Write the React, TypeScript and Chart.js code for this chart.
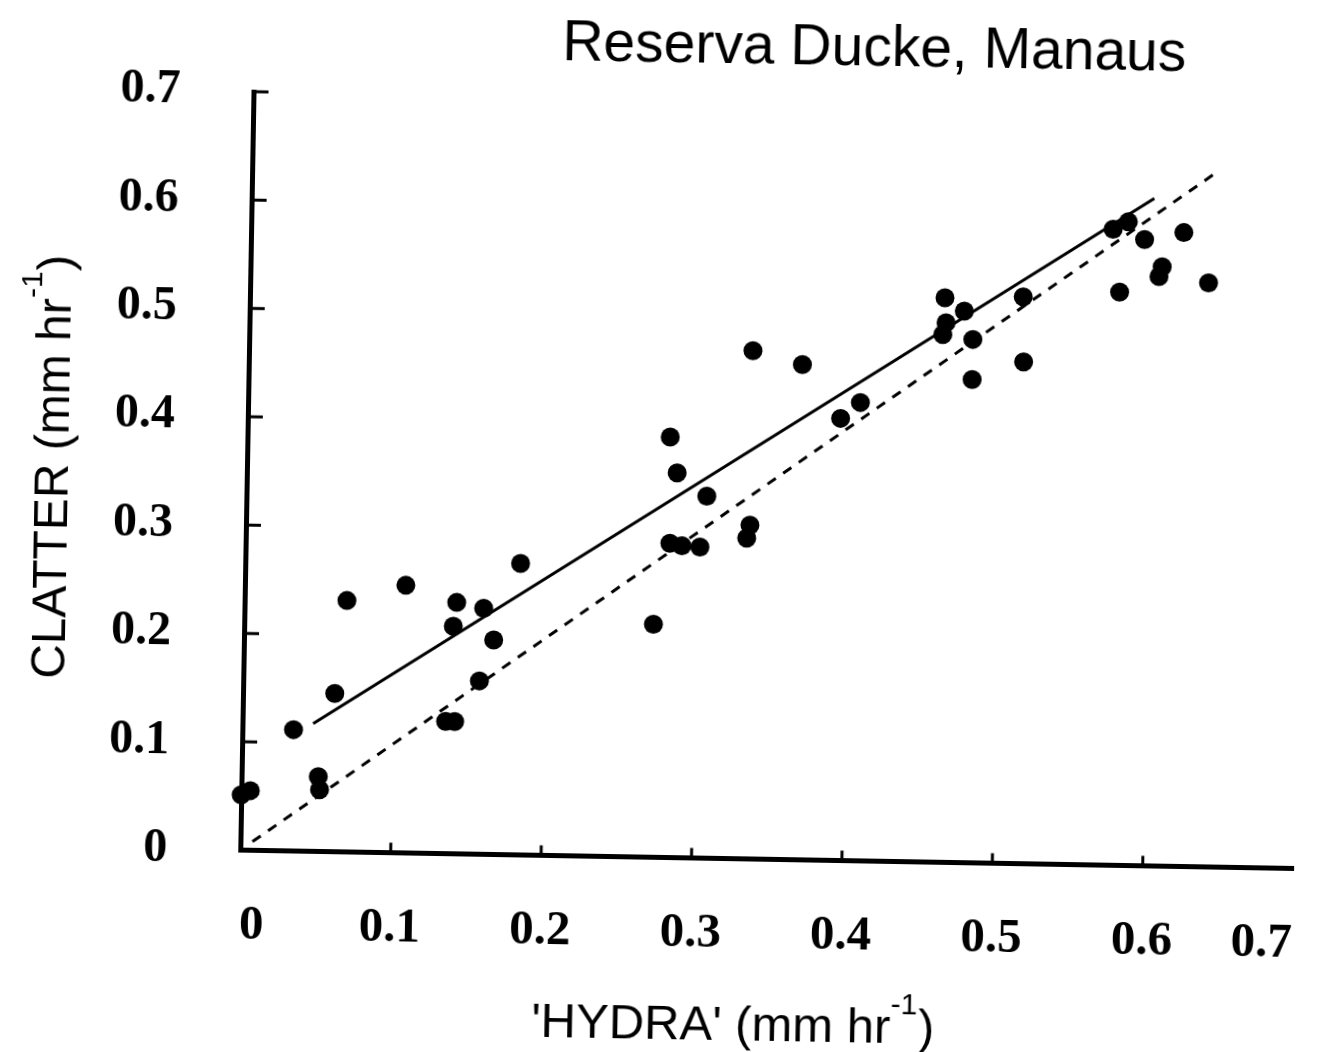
import React, { useEffect, useRef } from "react";
import { Chart, registerables } from "chart.js";

Chart.register(...registerables);

// ---- Data (HYDRA vs CLATTER rainfall rate, mm/hr) ----
const hydra = [
  0.0, 0.006, 0.034, 0.061, 0.068, 0.051, 0.052, 0.107, 0.135, 0.141,
  0.139, 0.141, 0.159, 0.166, 0.157, 0.183, 0.272, 0.281, 0.286, 0.282,
  0.29, 0.306, 0.302, 0.335, 0.333, 0.335, 0.368, 0.394, 0.407, 0.462,
  0.463, 0.461, 0.475, 0.481, 0.481, 0.514, 0.515, 0.573, 0.583, 0.594,
  0.606, 0.604, 0.578, 0.62, 0.637,
];
const clatter = [
  0.051, 0.055, 0.112, 0.146, 0.232, 0.069, 0.057, 0.247, 0.122, 0.122,
  0.21, 0.232, 0.227, 0.198, 0.16, 0.269, 0.215, 0.388, 0.355, 0.29,
  0.288, 0.334, 0.287, 0.308, 0.296, 0.469, 0.457, 0.408, 0.423, 0.521,
  0.498, 0.487, 0.509, 0.483, 0.446, 0.523, 0.463, 0.587, 0.594, 0.578,
  0.553, 0.544, 0.529, 0.585, 0.539,
];
// regression line (solid) end points
const fitX = [0.047, 0.6];
const fitY = [0.118, 0.616];
// 1:1 line (dashed) end points
const identityX = [0.008, 0.643];
const identityY = [0.008, 0.643];
// axis ticks
const tickValues = [0, 0.1, 0.2, 0.3, 0.4, 0.5, 0.6, 0.7];
const tickLabels = ["0", "0.1", "0.2", "0.3", "0.4", "0.5", "0.6", "0.7"];

const chartTitle = "Reserva Ducke, Manaus";
const xTitleParts = ["'HYDRA' (mm hr", "-1", ")"];
const yTitleParts = ["CLATTER (mm hr", "-1", ")"];

const W = 1337;
const H = 1052;
const SANS = '"Liberation Sans", Arial, Helvetica, sans-serif';
const SERIF = '"Liberation Serif", "Times New Roman", Times, serif';

function drawSupLabel(
  ctx: CanvasRenderingContext2D,
  parts: string[],
  cx: number,
  baseline: number,
  size: number
) {
  const mainFont = `${size}px ${SANS}`;
  const supSize = Math.round(size * 0.62);
  const supFont = `${supSize}px ${SANS}`;
  ctx.font = mainFont;
  const w1 = ctx.measureText(parts[0]).width;
  const w3 = ctx.measureText(parts[2]).width;
  ctx.font = supFont;
  const w2 = ctx.measureText(parts[1]).width;
  let x = cx - (w1 + w2 + w3) / 2;
  ctx.textAlign = "left";
  ctx.textBaseline = "alphabetic";
  ctx.font = mainFont;
  ctx.fillText(parts[0], x, baseline);
  x += w1;
  ctx.font = supFont;
  ctx.fillText(parts[1], x, baseline - size * 0.6);
  x += w2 + 1;
  ctx.font = mainFont;
  ctx.fillText(parts[2], x, baseline);
}

const extrasPlugin = {
  id: "extras",
  afterDraw(chart: any) {
    const { ctx, chartArea, scales } = chart;
    const xs = scales.x;
    const ys = scales.y;
    ctx.save();
    ctx.strokeStyle = "#000";
    ctx.fillStyle = "#000";
    ctx.lineWidth = 3;
    // inward tick marks
    for (const v of tickValues) {
      if (v === 0) continue;
      const py = ys.getPixelForValue(v);
      ctx.beginPath();
      ctx.moveTo(chartArea.left, py);
      ctx.lineTo(chartArea.left + 15, py);
      ctx.stroke();
    }
    for (const v of tickValues) {
      if (v === 0 || v === 0.7) continue;
      const px = xs.getPixelForValue(v);
      ctx.beginPath();
      ctx.moveTo(px, chartArea.bottom);
      ctx.lineTo(px, chartArea.bottom - 10);
      ctx.stroke();
    }
    // chart title
    ctx.font = `57px ${SANS}`;
    ctx.textAlign = "center";
    ctx.textBaseline = "alphabetic";
    ctx.fillText(chartTitle, 866, 62);
    // x axis title
    drawSupLabel(ctx, xTitleParts, 741, 1039, 49);
    // y axis title
    ctx.save();
    ctx.translate(67, 478);
    ctx.rotate(-Math.PI / 2);
    drawSupLabel(ctx, yTitleParts, 0, 0, 48);
    ctx.restore();
    ctx.restore();
  },
};

export default function App() {
  const canvasRef = useRef<HTMLCanvasElement | null>(null);

  useEffect(() => {
    if (!canvasRef.current) return;
    const points = hydra.map((x, i) => ({ x, y: clatter[i] }));
    const fitLine = fitX.map((x, i) => ({ x, y: fitY[i] }));
    const identityLine = identityX.map((x, i) => ({ x, y: identityY[i] }));

    const chart = new Chart(canvasRef.current, {
      type: "scatter",
      data: {
        datasets: [
          {
            label: "1:1",
            data: identityLine,
            showLine: true,
            borderColor: "#000",
            borderWidth: 3,
            borderDash: [10, 9],
            pointRadius: 0,
            clip: false,
          } as any,
          {
            label: "fit",
            data: fitLine,
            showLine: true,
            borderColor: "#000",
            borderWidth: 3,
            pointRadius: 0,
            clip: false,
          } as any,
          {
            label: "data",
            data: points,
            backgroundColor: "#000",
            borderColor: "#000",
            borderWidth: 0,
            pointRadius: 9.5,
            pointHoverRadius: 9.5,
            clip: false,
          } as any,
        ],
      },
      options: {
        animation: false,
        responsive: false,
        maintainAspectRatio: false,
        layout: { padding: { left: 0, right: 34, top: 99, bottom: 94.5 } },
        plugins: {
          legend: { display: false },
          tooltip: { enabled: false },
          title: { display: false },
        },
        scales: {
          x: {
            type: "linear",
            min: 0,
            max: 0.7,
            afterBuildTicks: (scale: any) => {
              scale.ticks = tickValues.map((v) => ({ value: v }));
            },
            afterFit: (scale: any) => {
              scale.height = 100;
            },
            grid: { display: false },
            border: { display: true, color: "#000", width: 5 },
            ticks: {
              align: "inner",
              padding: 38,
              color: "#000",
              font: { family: SERIF, size: 49, weight: "bold" },
              callback: (v: any) => tickLabels[tickValues.indexOf(Math.round(Number(v) * 10) / 10)] ?? "",
            },
          },
          y: {
            type: "linear",
            min: 0,
            max: 0.7,
            afterBuildTicks: (scale: any) => {
              scale.ticks = tickValues.map((v) => ({ value: v }));
            },
            afterFit: (scale: any) => {
              scale.width = 246;
            },
            grid: { display: false },
            border: { display: true, color: "#000", width: 5 },
            ticks: {
              padding: 65,
              color: "#000",
              font: { family: SERIF, size: 48, weight: "bold" },
              callback: (v: any) => tickLabels[tickValues.indexOf(Math.round(Number(v) * 10) / 10)] ?? "",
            },
          },
        },
      } as any,
      plugins: [extrasPlugin],
    });
    return () => chart.destroy();
  }, []);

  return (
    <div
      style={{
        position: "fixed",
        left: 0,
        top: 0,
        width: W,
        height: H,
        background: "#fff",
        overflow: "hidden",
      }}
    >
      <div
        style={{
          width: W,
          height: H,
          transform: "rotate(1deg)",
          transformOrigin: "668px 526px",
        }}
      >
        <canvas ref={canvasRef} width={W} height={H} style={{ display: "block" }} />
      </div>
    </div>
  );
}
